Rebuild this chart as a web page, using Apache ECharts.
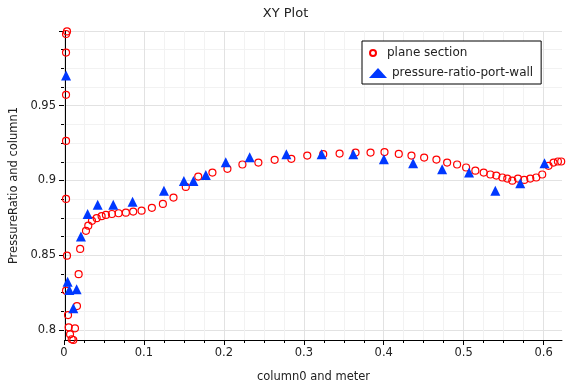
<!DOCTYPE html>
<html>
<head>
<meta charset="utf-8">
<script src="https://cdn.jsdelivr.net/npm/echarts@6/dist/echarts.min.js"></script>
<style>html,body{margin:0;padding:0;background:#fff}#c{width:571px;height:390px}</style>
</head>
<body>
<div id="c"></div>
<script>
// ---- data ----
var planeX = [0.0025,0.0013,0.0013,0.0013,0.0013,0.0013,0.0025,0.0013,0.0038,0.0046,0.0063,0.0084,0.0104,0.0125,0.0150,0.0171,0.0190,0.0263,0.0292,0.0338,0.0397,0.0459,0.0513,0.0588,0.0672,0.0763,0.0855,0.0960,0.1089,0.1227,0.1360,0.1514,0.1670,0.1848,0.2036,0.2224,0.2424,0.2628,0.2837,0.3037,0.3237,0.3442,0.3642,0.3830,0.4005,0.4184,0.4343,0.4502,0.4656,0.4790,0.4915,0.5028,0.5144,0.5248,0.5332,0.5407,0.5482,0.5544,0.5607,0.5678,0.5757,0.5832,0.5907,0.5982,0.6061,0.6124,0.6179,0.6220];
var planeY = [0.9997,0.9980,0.9856,0.9573,0.9265,0.8877,0.8497,0.8263,0.8100,0.8018,0.7971,0.7938,0.7933,0.8011,0.8160,0.8373,0.8542,0.8663,0.8698,0.8730,0.8748,0.8761,0.8770,0.8776,0.8781,0.8785,0.8792,0.8798,0.8817,0.8843,0.8886,0.8957,0.9026,0.9053,0.9078,0.9107,0.9120,0.9138,0.9145,0.9167,0.9176,0.9180,0.9187,0.9187,0.9190,0.9178,0.9167,0.9153,0.9140,0.9120,0.9107,0.9087,0.9066,0.9053,0.9040,0.9033,0.9020,0.9013,0.8999,0.9013,0.9004,0.9013,0.9020,0.9040,0.9098,0.9120,0.9127,0.9127];
var wallX = [0.0013,0.0033,0.0054,0.0104,0.0146,0.0200,0.0284,0.0410,0.0605,0.0847,0.1240,0.1490,0.1610,0.1765,0.2015,0.2315,0.2775,0.3217,0.3613,0.3997,0.4364,0.4727,0.5065,0.5394,0.5707,0.6011];
var wallY = [0.9702,0.8323,0.8268,0.8145,0.8272,0.8625,0.8776,0.8837,0.8837,0.8857,0.8932,0.8997,0.8997,0.9037,0.9122,0.9156,0.9176,0.9176,0.9176,0.9142,0.9116,0.9076,0.9053,0.8932,0.8982,0.9116];
var xMin = 0, xMax = 0.623, xTickMax = 0.6, xInterval = 0.1;
var yMin = 0.7933, yMax = 1.0, yTickMin = 0.8, yInterval = 0.05;
var seriesNames = ['plane section', 'pressure-ratio-port-wall'];

function zip(a, b) { return a.map(function (v, i) { return [v, b[i]]; }); }

var W = 571, H = 390;
var gl = 64, gr = 9, gt = 31, gb = 50;
var plotW = W - gl - gr, plotH = H - gt - gb;
var rightTicks = W - (gl + (xTickMax - xMin) / (xMax - xMin) * plotW);
var bottomTicks = gb + (yTickMin - yMin) / (yMax - yMin) * plotH;

var font = 'DejaVu Sans';
var txt = '#222';
var majorGrid = { show: true, lineStyle: { color: '#e2e2e2', width: 1 } };
var minorGrid = { show: true, lineStyle: { color: '#f2f2f2', width: 1 } };

var chart = echarts.init(document.getElementById('c'), null, { renderer: 'canvas' });
chart.setOption({
  backgroundColor: '#fff',
  animation: false,
  title: { text: 'XY Plot', left: 'center', top: 2, textStyle: { fontFamily: font, fontSize: 13, fontWeight: 'normal', color: txt } },
  grid: [
    { left: gl, right: gr, top: gt, bottom: gb },
    { left: gl, right: gr, top: gt, bottom: bottomTicks },
    { left: gl, right: rightTicks, top: gt, bottom: gb }
  ],
  xAxis: [
    { gridIndex: 0, type: 'value', min: xMin, max: xMax, axisLine: { show: true, lineStyle: { color: '#000', width: 1 } }, axisTick: { show: false }, axisLabel: { show: false }, splitLine: { show: false },
      name: 'column0 and meter', nameLocation: 'middle', nameGap: 31, nameTextStyle: { fontFamily: font, fontSize: 11.5, color: txt } },
    { gridIndex: 1, type: 'value', min: 0, max: 1, show: false },
    { gridIndex: 2, type: 'value', min: xMin, max: xTickMax, interval: xInterval, axisLine: { show: false },
      axisTick: { show: true, length: 5, lineStyle: { color: '#000' } },
      minorTick: { show: true, splitNumber: 4, length: 3, lineStyle: { color: '#000' } },
      axisLabel: { fontFamily: font, fontSize: 11.5, color: txt, margin: 7 },
      splitLine: majorGrid, minorSplitLine: minorGrid }
  ],
  yAxis: [
    { gridIndex: 0, type: 'value', min: yMin, max: yMax, axisLine: { show: true, lineStyle: { color: '#000', width: 1 } }, axisTick: { show: false }, axisLabel: { show: false }, splitLine: { show: false },
      name: 'PressureRatio and column1', nameLocation: 'middle', nameGap: 45, nameTextStyle: { fontFamily: font, fontSize: 11.5, color: txt } },
    { gridIndex: 1, type: 'value', min: yTickMin, max: yMax, interval: yInterval, axisLine: { show: false },
      axisTick: { show: true, length: 5, lineStyle: { color: '#000' } },
      minorTick: { show: true, splitNumber: 4, length: 3, lineStyle: { color: '#000' } },
      axisLabel: { fontFamily: font, fontSize: 11.5, color: txt, margin: 8, showMaxLabel: false },
      splitLine: majorGrid, minorSplitLine: minorGrid },
    { gridIndex: 2, type: 'value', min: 0, max: 1, show: false }
  ],
  legend: [
    { data: [seriesNames[1]], orient: 'vertical', left: 362, top: 41, itemWidth: 18, itemHeight: 10,
      padding: [25, 8, 4, 7], backgroundColor: '#fff', borderColor: '#000', borderWidth: 1, borderRadius: 0,
      textStyle: { fontFamily: font, fontSize: 12, color: txt, lineHeight: 14 }, selectedMode: false, z: 10 },
    { data: [seriesNames[0]], orient: 'vertical', left: 362, top: 41, itemWidth: 18, itemHeight: 6,
      padding: [5, 0, 0, 7], backgroundColor: 'transparent', borderWidth: 0,
      textStyle: { fontFamily: font, fontSize: 12, color: txt, lineHeight: 14 }, selectedMode: false, z: 11 }
  ],
  series: [
    { name: seriesNames[0], type: 'scatter', xAxisIndex: 0, yAxisIndex: 0, data: zip(planeX, planeY),
      symbol: 'circle', symbolSize: 7, clip: false,
      itemStyle: { color: 'rgba(255,255,255,0)', borderColor: '#ff0000', borderWidth: 1.2, opacity: 1 } },
    { name: seriesNames[1], type: 'scatter', xAxisIndex: 0, yAxisIndex: 0, data: zip(wallX, wallY),
      symbol: 'triangle', symbolSize: 10, clip: false,
      itemStyle: { color: '#0038ff', opacity: 1 } }
  ]
});
</script>
</body>
</html>
